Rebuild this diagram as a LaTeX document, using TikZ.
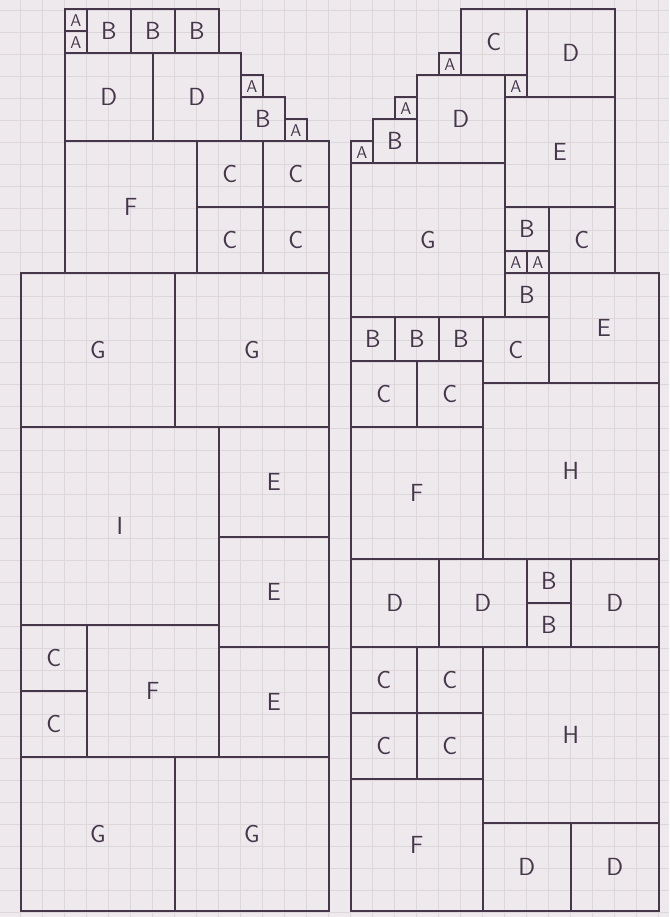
\documentclass[tikz,border=0pt]{standalone}
\definecolor{pen}{HTML}{45364A}
\definecolor{paper}{HTML}{EDE9EC}
\definecolor{gridline}{HTML}{DDD6DB}

\begin{document}
\begin{tikzpicture}[x=5mm,y=5mm,
  font=\sffamily\fontsize{16}{18}\selectfont, text=pen,
  tile/.style={draw=pen,line width=1pt,inner sep=0pt,anchor=south west,
               minimum width=#1*5mm,minimum height=#1*5mm},
  unittile/.style={tile=1,font=\sffamily\fontsize{11}{12}\selectfont}
]
% squared paper; one grid cell is one unit
\path[use as bounding box,fill=paper] (-0.909,-0.227) rectangle (29.5,41.45);
\draw[gridline,line width=.5pt,step=1] (-0.909,-0.227) grid (29.5,41.45);

% left column
\node[tile=7] (lG1) at (0,0) {G};
\node[tile=7] (lG2) at (7,0) {G};
\node[tile=3] (lC1) at (0,7) {C};
\node[tile=3] (lC2) at (0,10) {C};
\node[tile=6] (lF1) at (3,7) {F};
\node[tile=5] (lE1) at (9,7) {E};
\node[tile=5] (lE2) at (9,12) {E};
\node[tile=5] (lE3) at (9,17) {E};
\node[tile=9] (lI) at (0,13) {I};
\node[tile=7] (lG3) at (0,22) {G};
\node[tile=7] (lG4) at (7,22) {G};
\node[tile=6] (lF2) at (2,29) {F};
\foreach \n/\x/\y in {3/8/29,4/11/29,5/8/32,6/11/32}
  {\node[tile=3] (lC\n) at (\x,\y) {C};}
\node[tile=4] (lD1) at (2,35) {D};
\node[tile=4] (lD2) at (6,35) {D};
\node[tile=2] (lB1) at (10,35) {B};
\node[unittile] (lA1) at (10,37) {A};
\node[unittile] (lA2) at (12,35) {A};
\node[unittile] (lA3) at (2,39) {A};
\node[unittile] (lA4) at (2,40) {A};
\foreach \n/\x in {2/3,3/5,4/7}
  {\node[tile=2] (lB\n) at (\x,39) {B};}

% right column
\node[tile=6] (rF1) at (15,0) {F};
\node[tile=4] (rD1) at (21,0) {D};
\node[tile=4] (rD2) at (25,0) {D};
\node[tile=8] (rH1) at (21,4) {H};
\foreach \n/\x/\y in {1/15/6,2/18/6,3/15/9,4/18/9}
  {\node[tile=3] (rC\n) at (\x,\y) {C};}
\node[tile=4] (rD3) at (15,12) {D};
\node[tile=4] (rD4) at (19,12) {D};
\node[tile=2] (rB1) at (23,12) {B};
\node[tile=2] (rB2) at (23,14) {B};
\node[tile=4] (rD5) at (25,12) {D};
\node[tile=6] (rF2) at (15,16) {F};
\node[tile=8] (rH2) at (21,16) {H};
\node[tile=3] (rC5) at (15,22) {C};
\node[tile=3] (rC6) at (18,22) {C};
\foreach \n/\x in {3/15,4/17,5/19}
  {\node[tile=2] (rB\n) at (\x,25) {B};}
\node[tile=3] (rC7) at (21,24) {C};
\node[tile=5] (rE1) at (24,24) {E};
\node[tile=7] (rG) at (15,27) {G};
\node[tile=2] (rB6) at (22,27) {B};
\node[unittile] (rA1) at (22,29) {A};
\node[unittile] (rA2) at (23,29) {A};
\node[tile=2] (rB7) at (22,30) {B};
\node[tile=3] (rC8) at (24,29) {C};
\node[tile=5] (rE2) at (22,32) {E};
\node[tile=4] (rD6) at (18,34) {D};
\node[unittile] (rA3) at (15,34) {A};
\node[tile=2] (rB8) at (16,34) {B};
\node[unittile] (rA4) at (17,36) {A};
\node[unittile] (rA5) at (19,38) {A};
\node[tile=3] (rC9) at (20,38) {C};
\node[unittile] (rA6) at (22,37) {A};
\node[tile=4] (rD7) at (23,37) {D};
\end{tikzpicture}
\end{document}
